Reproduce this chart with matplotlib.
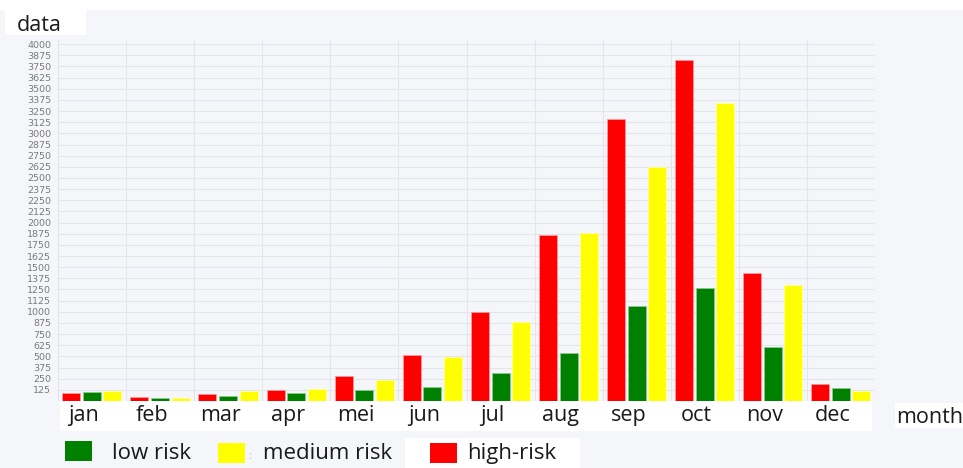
import matplotlib.pyplot as plt
from matplotlib.patches import Rectangle
import numpy as np

months = ["jan", "feb", "mar", "apr", "mei", "jun", "jul", "aug", "sep", "oct", "nov", "dec"]
high_risk = [86, 49, 75, 120, 280, 512, 998, 1860, 3160, 3820, 1440, 187]
low_risk = [100, 38, 60, 90, 123, 155, 312, 535, 1063, 1270, 602, 150]
medium_risk = [109, 30, 109, 135, 235, 498, 881, 1882, 2618, 3345, 1296, 114]
yticks = list(range(125, 4001, 125))

W, H = 963, 468
bg = "#f5f6fa"
plt.rcParams["font.family"] = ["Open Sans", "DejaVu Sans"]

fig = plt.figure(figsize=(W / 100, H / 100), dpi=100, facecolor=bg)

def fx(x):
    return x / W

def fy(y):
    return 1 - y / H

# white patches behind the labels
for (x0, y0, x1, y1) in [(0, 0, W, 10), (5, 0, 86, 35), (60, 401, 872, 431),
                         (895, 403, 963, 428), (405, 438, 580, 468)]:
    fig.patches.append(Rectangle((fx(x0), fy(y1)), fx(x1 - x0), (y1 - y0) / H,
                                 transform=fig.transFigure, facecolor="white",
                                 edgecolor="none", zorder=-1))

ax = fig.add_axes([fx(58), fy(401), fx(875 - 58), (401 - 39.7) / H])
ax.set_facecolor(bg)
for s in ax.spines.values():
    s.set_visible(False)

x = np.arange(len(months))
w = 0.265
ax.bar(x - 0.305, high_risk, w, color="#ff0000", edgecolor="#ff9a9a", linewidth=0.6, zorder=3)
ax.bar(x, low_risk, w, color="#008000", edgecolor="#8fc98f", linewidth=0.6, zorder=3)
ax.bar(x + 0.3, medium_risk, w, color="#ffff00", edgecolor="#ffffa0", linewidth=0.6, zorder=3)

ax.set_xlim(-0.5, 11.5)
ax.set_ylim(0, 4050)
ax.set_yticks(yticks)
ax.set_yticklabels([str(v) for v in yticks], fontsize=6.8, color="#7a7a7a",
                   family="DejaVu Sans")
ax.set_xticks(np.arange(-0.5, 12, 1))
ax.set_xticklabels([])
ax.tick_params(length=0, pad=5)
ax.grid(True, color="#e3e5ec", linewidth=0.8, zorder=0)

for i, m in enumerate(months):
    ax.text(i - 0.12, -224, m, ha="center", va="baseline", fontsize=15.5,
            color="#1a1a1a", clip_on=False)

fig.text(fx(17), fy(31), "data", fontsize=15.5, color="#1a1a1a")
fig.text(fx(896), fy(423), "month", fontsize=15.5, color="#1a1a1a")

# legend
legend = [(65, 441, "#008000", 112, "low risk"),
          (218, 443, "#ffff00", 263, "medium risk"),
          (430, 443, "#ff0000", 467, "high-risk")]
for (sx, sy, c, tx, label) in legend:
    fig.patches.append(Rectangle((fx(sx), fy(sy + 20)), fx(27), 20 / H,
                                 transform=fig.transFigure, facecolor=c, edgecolor="none"))
    fig.text(fx(tx), fy(459), label, fontsize=16, color="#1a1a1a")
fig.text(fx(248), fy(459), ":", fontsize=8, color="#bbbbbb")

fig.savefig("out.png", dpi=100, facecolor=bg)
